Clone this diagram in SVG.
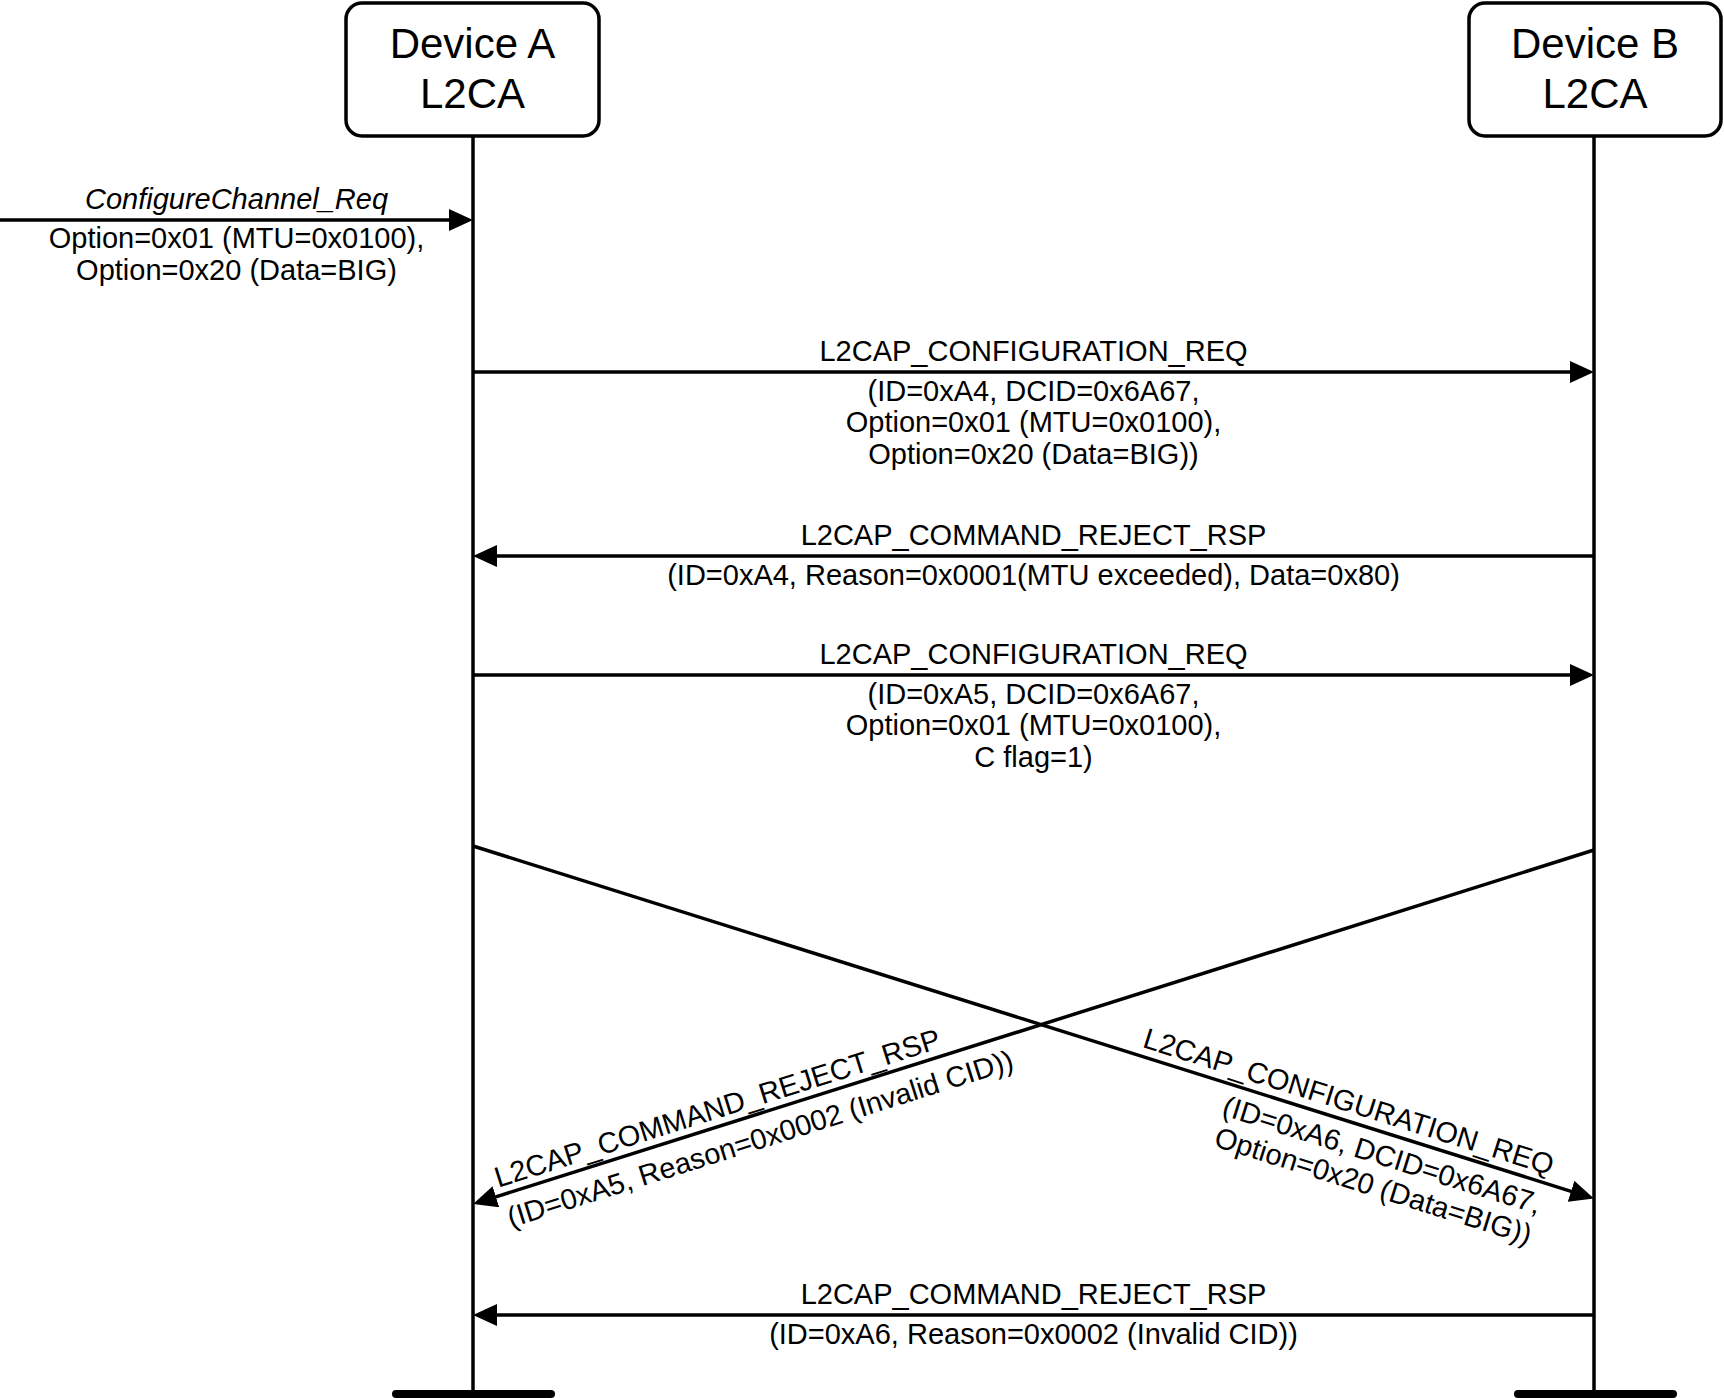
<svg xmlns="http://www.w3.org/2000/svg" width="1724" height="1398" viewBox="0 0 1724 1398">
<style>
.box{fill:#fff;stroke:#000;stroke-width:3.5}
.life{stroke:#000;stroke-width:3.5;fill:none}
.bar{stroke:#000;stroke-width:8;stroke-linecap:round}
.msg{stroke:#000;stroke-width:3.5;fill:none;marker-end:url(#ah)}
text{font-family:"Liberation Sans",Arial,sans-serif;fill:#000}
.dev{font-size:42px;text-anchor:middle}
.lbl{font-size:29px;text-anchor:middle}
.it{font-style:italic}
.st{text-anchor:start}
.en{text-anchor:end}
</style>
<defs>
<marker id="ah" viewBox="0 0 24 22" refX="10" refY="11" markerWidth="24" markerHeight="22" markerUnits="userSpaceOnUse" orient="auto">
<path d="M0,0 L24,11 L0,22 z" fill="#000"/>
</marker>
</defs>
<rect width="1724" height="1398" fill="#fff"/>
<g id="deviceA">
<line class="life" x1="473" y1="136" x2="473" y2="1394"/>
<line class="bar" x1="396" y1="1394" x2="551" y2="1394"/>
<rect class="box" x="346" y="3" width="253" height="133" rx="16"/>
<text class="dev" x="472.5" y="58">Device A</text>
<text class="dev" x="472.5" y="108">L2CA</text>
</g>
<g id="deviceB">
<line class="life" x1="1594" y1="136" x2="1594" y2="1394"/>
<line class="bar" x1="1518" y1="1394" x2="1673" y2="1394"/>
<rect class="box" x="1469" y="3" width="252" height="133" rx="16"/>
<text class="dev" x="1595" y="58">Device B</text>
<text class="dev" x="1595" y="108">L2CA</text>
</g>
<g id="connectors">
<g id="m0">
<line class="msg" x1="0" y1="220" x2="459" y2="220"/>
<text class="lbl it" x="236.5" y="209">ConfigureChannel_Req</text>
<text class="lbl" x="236.5" y="248">Option=0x01 (MTU=0x0100),</text>
<text class="lbl" x="236.5" y="279.5">Option=0x20 (Data=BIG)</text>
</g>
<g id="m1">
<line class="msg" x1="473" y1="372" x2="1580" y2="372"/>
<text class="lbl" x="1033.5" y="361">L2CAP_CONFIGURATION_REQ</text>
<text class="lbl" x="1033.5" y="400.5">(ID=0xA4, DCID=0x6A67,</text>
<text class="lbl" x="1033.5" y="432">Option=0x01 (MTU=0x0100),</text>
<text class="lbl" x="1033.5" y="463.5">Option=0x20 (Data=BIG))</text>
</g>
<g id="m2">
<line class="msg" x1="1594" y1="556" x2="487" y2="556"/>
<text class="lbl" x="1033.5" y="545">L2CAP_COMMAND_REJECT_RSP</text>
<text class="lbl" x="1033.5" y="584.5">(ID=0xA4, Reason=0x0001(MTU exceeded), Data=0x80)</text>
</g>
<g id="m3">
<line class="msg" x1="473" y1="675" x2="1580" y2="675"/>
<text class="lbl" x="1033.5" y="664">L2CAP_CONFIGURATION_REQ</text>
<text class="lbl" x="1033.5" y="703.5">(ID=0xA5, DCID=0x6A67,</text>
<text class="lbl" x="1033.5" y="735">Option=0x01 (MTU=0x0100),</text>
<text class="lbl" x="1033.5" y="766.5">C flag=1)</text>
</g>
<g id="m4">
<line class="msg" x1="473" y1="846" x2="1580.6" y2="1194.3"/>
<g transform="translate(1547.2,1183.8) rotate(17.456)">
<text class="lbl en" x="0" y="-9">L2CAP_CONFIGURATION_REQ</text>
<text class="lbl en" x="0" y="32">(ID=0xA6, DCID=0x6A67,</text>
<text class="lbl en" x="0" y="64">Option=0x20 (Data=BIG))</text>
</g>
</g>
<g id="m5">
<line class="msg" x1="1594" y1="850" x2="486.4" y2="1199.8"/>
<g transform="translate(500.7,1195.3) rotate(-17.526)">
<text class="lbl st" x="0" y="-8">L2CAP_COMMAND_REJECT_RSP</text>
<text class="lbl st" x="0" y="34">(ID=0xA5, Reason=0x0002 (Invalid CID))</text>
</g>
</g>
<g id="m6">
<line class="msg" x1="1594" y1="1315" x2="487" y2="1315"/>
<text class="lbl" x="1033.5" y="1304">L2CAP_COMMAND_REJECT_RSP</text>
<text class="lbl" x="1033.5" y="1343.5">(ID=0xA6, Reason=0x0002 (Invalid CID))</text>
</g>
</g>
</svg>
